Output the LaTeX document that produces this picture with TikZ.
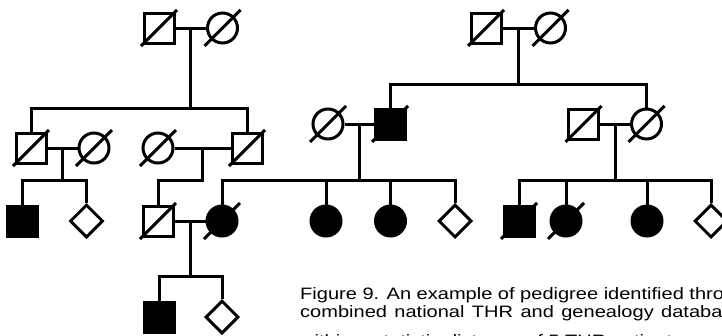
\documentclass[tikz,border=0pt]{standalone}
\usepackage{fontspec}
\setmainfont{Liberation Sans}
\newfontfamily\capfont[FakeStretch=1.214]{Liberation Sans}
\usetikzlibrary{shapes.geometric,calc}
\tikzset{
  conn/.style={line width=3pt},
  person/.style={draw, line width=3pt, inner sep=0pt},
  male/.style={person, rectangle, minimum size=30pt},
  female/.style={person, circle, minimum size=30pt},
  unknown/.style={person, diamond, minimum size=33pt},
  aff/.style={fill=black},
  slashline/.style={line width=3pt},
  captext/.style={anchor=base west, inner sep=0pt, font=\capfont\fontsize{16.5}{18.7}\selectfont}
}
\begin{document}
\begin{tikzpicture}[x=1pt,y=-1pt]
\useasboundingbox (0,0) rectangle (722,335);
\clip (0,0) rectangle (722,335);
% generation I
\node[male]   (a1) at (159,28) {};
\node[female] (a2) at (222.5,28) {};
\node[male]   (r1) at (486,28) {};
\node[female] (r2) at (550.5,28) {};
% generation II
\node[male]   (b1) at (31,148) {};
\node[female] (b2) at (94,148) {};
\node[female] (b3) at (158,148) {};
\node[male]   (b4) at (247,148) {};
\node[female] (s1) at (328,124) {};
\node[male,aff] (s2) at (390,124) {};
\node[male]   (s3) at (583.5,124) {};
\node[female] (s4) at (646.5,124) {};
% generation III
\node[male,aff] (c1) at (22,221) {};
\node[unknown]  (c2) at (86.5,221) {};
\node[male]     (c3) at (158,221) {};
\node[female,aff] (c4) at (222,221) {};
\node[female,aff] (c5) at (326,221) {};
\node[female,aff] (c6) at (390.5,221) {};
\node[unknown]  (c7) at (455,221) {};
\node[male,aff] (d1) at (519,221) {};
\node[female,aff] (d2) at (566,221) {};
\node[female,aff] (d3) at (647,221) {};
\node[unknown]  (d4) at (711,221) {};
% generation IV
\node[male,aff] (e1) at (159,317) {};
\node[unknown]  (e2) at (222,317) {};
% deceased slashes
\foreach \n in {a1,a2,r1,r2,b1,b2,b3,b4,s1,s2,s3,s4,c3,c4,d1,d2}
  \draw[slashline] (\n.center) ++(-18,18) -- ++(36,-36);
% marriages and descent
\coordinate (ma) at ($(a1)!0.5!(a2)$);
\coordinate (sa) at (ma |- 0,108);
\draw[conn] (a1) -- (a2);
\draw[conn] (ma) -- (sa);
\draw[conn] (b1) |- (sa) -| (b4);
\coordinate (mr) at ($(r1)!0.5!(r2)$);
\coordinate (sr) at (mr |- 0,84);
\draw[conn] (r1) -- (r2);
\draw[conn] (mr) -- (sr);
\draw[conn] (s2) |- (sr) -| (s4);
\coordinate (mb1) at ($(b1)!0.5!(b2)$);
\coordinate (sb1) at (mb1 |- 0,180);
\draw[conn] (b1) -- (b2);
\draw[conn] (mb1) -- (sb1);
\draw[conn] (c1) |- (sb1) -| (c2);
\coordinate (mb3) at ($(b3)!0.5!(b4)$);
\coordinate (sb3) at (mb3 |- 0,180);
\draw[conn] (b3) -- (b4);
\draw[conn] (mb3) -- (sb3) -| (c3);
\coordinate (ms) at ($(s1)!0.5!(s2)$);
\coordinate (ss) at (ms |- 0,180);
\draw[conn] (s1) -- (s2);
\draw[conn] (ms) -- (ss);
\draw[conn] (c4) |- (ss) -| (c7);
\draw[conn] (c5) -- (c5 |- ss);
\draw[conn] (c6) -- (c6 |- ss);
\coordinate (mt) at ($(s3)!0.5!(s4)$);
\coordinate (st) at (mt |- 0,180);
\draw[conn] (s3) -- (s4);
\draw[conn] (mt) -- (st);
\draw[conn] (d1) |- (st) -| (d4);
\draw[conn] (d2) -- (d2 |- st);
\draw[conn] (d3) -- (d3 |- st);
\coordinate (mc) at ($(c3)!0.5!(c4)$);
\coordinate (sc) at (mc |- 0,276.7);
\draw[conn] (c3) -- (c4);
\draw[conn] (mc) -- (sc);
\draw[conn] (e1) |- (sc) -| (e2);
% caption
\node[captext] (cap1) at (300,299) {Figure 9. An example of pedigree identified through the};
\node[captext] (cap2) at (300,317.7) {\spaceskip=7.4pt combined national THR and genealogy database.};
\node[captext] (cap3) at (300,346.3) {within a statistic distance of 5 THR patients};
\end{tikzpicture}
\end{document}
